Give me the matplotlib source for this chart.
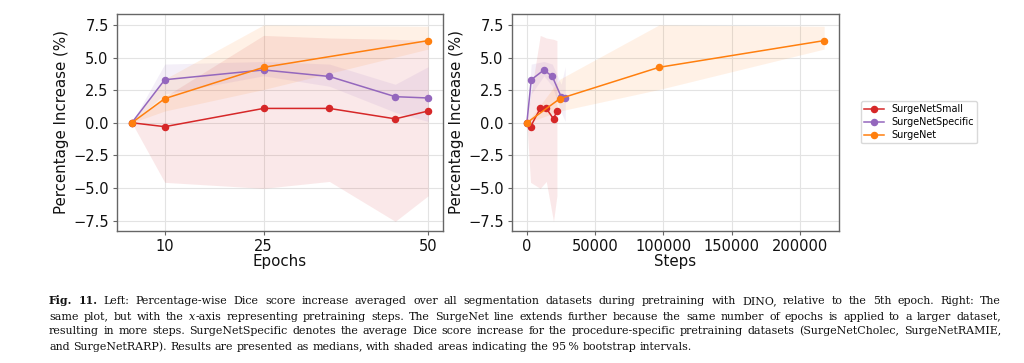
import matplotlib
matplotlib.use('Agg')
import matplotlib.pyplot as plt
from matplotlib.lines import Line2D

# ---------------- data ----------------
epochs_small = [5, 10, 25, 35, 45, 50]
steps_small = [0, 2700, 9800, 14200, 19500, 22000]
small_med = [0.0, -0.3, 1.1, 1.1, 0.3, 0.9]
small_lo = [0.0, -4.57, -5.03, -4.5, -7.56, -5.6]
small_hi = [0.0, 2.0, 6.7, 6.5, 6.4, 6.3]

epochs_specific = [5, 10, 25, 35, 45, 50]
steps_specific = [0, 3200, 12500, 18600, 25100, 28100]
specific_med = [0.0, 3.3, 4.05, 3.55, 2.0, 1.9]
specific_lo = [0.0, 2.2, 3.6, 2.8, 0.8, 0.1]
specific_hi = [0.0, 4.5, 4.7, 4.5, 2.95, 4.3]

epochs_surgenet = [5, 10, 25, 50]
steps_surgenet = [0, 24200, 96700, 217600]
surgenet_med = [0.0, 1.85, 4.25, 6.3]
surgenet_lo = [0.0, 0.9, 2.55, 5.65]
surgenet_hi = [0.0, 3.35, 7.5, 7.4]

labels = ["SurgeNetSmall", "SurgeNetSpecific", "SurgeNet"]
colors = ["#d62728", "#9467bd", "#ff7f0e"]
epoch_ticks = [10, 25, 50]
step_ticks = [0, 50000, 100000, 150000, 200000]
y_ticks = [-7.5, -5.0, -2.5, 0.0, 2.5, 5.0, 7.5]

caption_lines = [
    [("Fig. 11.", {"weight": "bold"}),
     (" Left: Percentage-wise Dice score increase averaged over all segmentation datasets during pretraining with DINO, relative to the 5th epoch. Right: The", {})],
    [("same plot, but with the ", {}), ("x", {"style": "italic"}),
     ("-axis representing pretraining steps. The SurgeNet line extends further because the same number of epochs is applied to a larger dataset,", {})],
    [("resulting in more steps. SurgeNetSpecific denotes the average Dice score increase for the procedure-specific pretraining datasets (SurgeNetCholec, SurgeNetRAMIE,", {})],
    [("and SurgeNetRARP). Results are presented as medians, with shaded areas indicating the 95\u2009% bootstrap intervals.", {})],
]

W, H = 1024, 363
fig = plt.figure(figsize=(W / 100, H / 100), dpi=100)
ax1 = fig.add_axes([117 / W, 1 - 231 / H, 326 / W, 217 / H])
ax2 = fig.add_axes([512 / W, 1 - 231 / H, 327 / W, 217 / H])

series_epochs = [
    (epochs_small, small_med, small_lo, small_hi),
    (epochs_specific, specific_med, specific_lo, specific_hi),
    (epochs_surgenet, surgenet_med, surgenet_lo, surgenet_hi),
]
series_steps = [
    (steps_small, small_med, small_lo, small_hi),
    (steps_specific, specific_med, specific_lo, specific_hi),
    (steps_surgenet, surgenet_med, surgenet_lo, surgenet_hi),
]


def draw(ax, series):
    for (x, m, lo, hi), c in zip(series, colors):
        ax.fill_between(x, lo, hi, color=c, alpha=0.1, linewidth=0, zorder=1)
    for (x, m, lo, hi), c, lab in zip(series, colors, labels):
        ax.plot(x, m, color=c, marker='o', markersize=4.4, linewidth=1.1,
                label=lab, zorder=3)
    ax.grid(True, color='#e3e3e3', linewidth=0.8, zorder=0)
    ax.set_axisbelow(True)
    for s in ax.spines.values():
        s.set_color('#666666')
        s.set_linewidth(1.0)
    ax.tick_params(colors='#666666', labelcolor='#111111', labelsize=10.5,
                   length=3, width=0.8, pad=3)
    ax.set_ylim(-8.3, 8.34)
    ax.set_yticks(y_ticks)
    ax.set_ylabel("Percentage Increase (%)", fontsize=10.8, color='#111111',
                  labelpad=3)


draw(ax1, series_epochs)
ax1.set_xticks(epoch_ticks)
ax1.set_xlabel("Epochs", fontsize=10.8, color='#111111', labelpad=0)
draw(ax2, series_steps)
ax2.set_xticks(step_ticks)
ax2.set_xlabel("Steps", fontsize=10.8, color='#111111', labelpad=0)

handles = [Line2D([], [], color=c, marker='o', markersize=4.4, linewidth=1.1)
           for c in colors]
fig.legend(handles, labels, loc='upper left',
           bbox_to_anchor=(861 / W, 1 - 101 / H), fontsize=6.9,
           frameon=True, edgecolor='#d0d0d0', fancybox=True,
           borderaxespad=0, handlelength=2.1, labelspacing=0.3,
           borderpad=0.35, handletextpad=0.7)

# ---------------- caption ----------------
renderer = fig.canvas.get_renderer()
CAP_FAMILY = 'DejaVu Serif'
X0, X1 = 49, 1001


def text_width(s, kw, size):
    t = fig.text(0, 0, s, fontsize=size, family=CAP_FAMILY, **kw)
    w = t.get_window_extent(renderer).width
    t.remove()
    return w


def split_words(pieces):
    words = []
    prev_space = True
    for txt, kw in pieces:
        parts = txt.split(' ')
        for i, p in enumerate(parts):
            if p == '':
                continue
            if i == 0 and not prev_space and words:
                words[-1].append((p, kw))
            else:
                words.append([(p, kw)])
        prev_space = txt.endswith(' ')
    return words


def natural_width(words, size):
    sp = text_width("a a", {}, size) - text_width("aa", {}, size)
    tot = sum(text_width(p, kw, size) for w in words for p, kw in w)
    return tot + sp * (len(words) - 1) * 1.15


BASE = 10.0
all_words = [split_words(l) for l in caption_lines]
size = min(BASE * (X1 - X0) / natural_width(w, BASE) for w in all_words[:-1])
size = min(size, 9.3)


def draw_caption_line(words, y_px, justify):
    sp = text_width("a a", {}, size) - text_width("aa", {}, size)
    measured = []
    total = 0.0
    for w in words:
        pw = []
        for p, kw in w:
            wd = text_width(p, kw, size)
            pw.append((p, kw, wd))
            total += wd
        measured.append(pw)
    if justify and len(measured) > 1:
        gap = (X1 - X0 - total) / (len(measured) - 1)
    else:
        gap = sp
    x = X0
    for w in measured:
        for p, kw, wd in w:
            fig.text(x / W, 1 - y_px / H, p, fontsize=size,
                     family=CAP_FAMILY, va='baseline', ha='left',
                     color='#111111', **kw)
            x += wd
        x += gap


baselines = [304, 319.5, 334.5, 349.5]
for i, (words, yb) in enumerate(zip(all_words, baselines)):
    draw_caption_line(words, yb, justify=(i < len(all_words) - 1))

fig.savefig("out.png", dpi=100)
